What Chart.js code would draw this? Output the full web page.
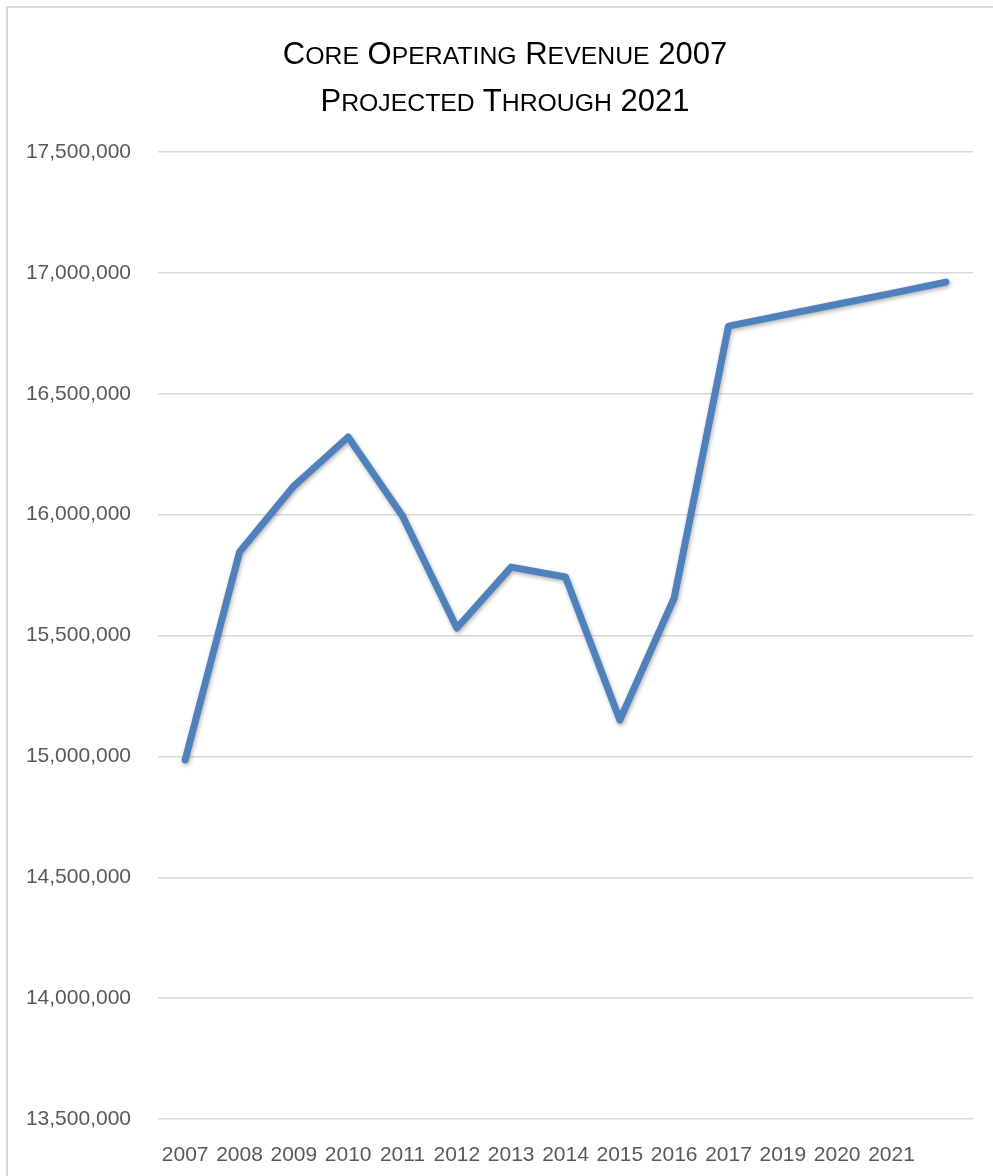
<!DOCTYPE html>
<html>
<head>
<meta charset="utf-8">
<script src="https://cdn.jsdelivr.net/npm/chart.js@4"></script>
<style>
  html, body { margin: 0; padding: 0; background: #fff; }
  #wrap { position: relative; width: 993px; height: 1176px; overflow: hidden; }
  #frame { position: absolute; left: 6px; top: 6px; width: 1000px; height: 1200px; border: 2px solid #D9D9D9; box-sizing: border-box; }
  #title {
    position: absolute; left: 0; top: 31px; width: 1010px; text-align: center;
    font-family: "Liberation Sans", sans-serif; font-size: 31px; line-height: 45px;
    color: #000;
  }
  #title .sc { font-size: 0.8em; text-transform: uppercase; }
  canvas { position: absolute; left: 0; top: 0; }
</style>
</head>
<body>
<div id="wrap">
  <div id="frame"></div>
  <canvas id="chart" width="993" height="1176"></canvas>
  <div id="title">C<span class="sc">ore</span> O<span class="sc">perating</span> R<span class="sc">evenue</span> 2007<br>P<span class="sc">rojected</span> T<span class="sc">hrough</span> 2021</div>
</div>
<script>
// x labels (last category has no label in the original)
const years = ['2007', '2008', '2009', '2010', '2011', '2012', '2013', '2014', '2015', '2016', '2017', '2019', '2020', '2021', ''];
// revenue
const revenue = [14985000, 15845000, 16118000, 16321000, 15994000, 15531000, 15783000, 15742000, 15150000, 15655000, 16780000, 16825000, 16870000, 16915000, 16962000];

const yMin = 13500000;
const yMax = 17500000;
const yStep = 500000;

// soft drop shadow under the line, like the office chart
const lineShadow = {
    id: 'lineShadow',
    beforeDatasetsDraw(chart) {
        const c = chart.ctx;
        c.save();
        c.shadowColor = 'rgba(0,0,0,0.3)';
        c.shadowBlur = 4;
        c.shadowOffsetX = 1;
        c.shadowOffsetY = 2;
    },
    afterDatasetsDraw(chart) {
        chart.ctx.restore();
    }
};

const ctx = document.getElementById('chart').getContext('2d');

new Chart(ctx, {
    type: 'line',
    data: {
        labels: years,
        datasets: [{
            data: revenue,
            borderColor: '#4F81BD',
            borderWidth: 7,
            pointRadius: 0,
            tension: 0,
            borderCapStyle: 'round',
            borderJoinStyle: 'round',
            fill: false
        }]
    },
    options: {
        responsive: false,
        animation: false,
        layout: { padding: { top: 152, right: 20, bottom: 0, left: 0 } },
        plugins: {
            legend: { display: false },
            tooltip: { enabled: false }
        },
        scales: {
            x: {
                offset: true,
                grid: { display: false },
                border: { display: false },
                ticks: {
                    color: '#595959',
                    font: { family: 'Liberation Sans', size: 21 },
                    padding: 16,
                    maxRotation: 0,
                    autoSkip: false
                },
                afterFit: (scale) => { scale.height = 57; }
            },
            y: {
                min: yMin,
                max: yMax,
                grid: { color: '#D9D9D9', lineWidth: 1.5, drawTicks: false },
                border: { display: false },
                ticks: {
                    stepSize: yStep,
                    color: '#595959',
                    font: { family: 'Liberation Sans', size: 21 },
                    padding: 27,
                    callback: (v) => v.toLocaleString('en-US')
                },
                afterFit: (scale) => { scale.width = 158; }
            }
        }
    },
    plugins: [lineShadow]
});
</script>
</body>
</html>
